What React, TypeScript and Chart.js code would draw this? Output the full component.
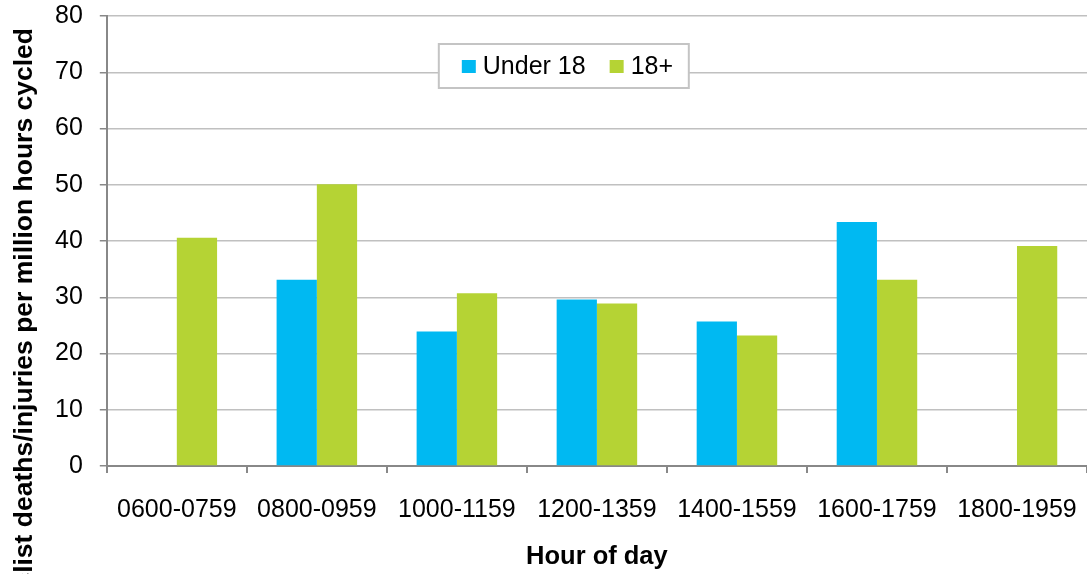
import React, { useEffect, useRef } from "react";
import { Chart, registerables } from "chart.js";

Chart.register(...registerables);

const categories = [
  "0600-0759",
  "0800-0959",
  "1000-1159",
  "1200-1359",
  "1400-1559",
  "1600-1759",
  "1800-1959",
];
const under18 = [null, 33.1, 23.9, 29.6, 25.7, 43.4, null];
const adults = [40.6, 50.1, 30.7, 28.9, 23.2, 33.1, 39.1];
const seriesLabels = ["Under 18", "18+"];
const seriesColors = ["#00B9F2", "#B5D334"];
const yTitle = "Cyclist deaths/injuries per million hours cycled";
const xTitle = "Hour of day";

const FONT = "'Liberation Sans', Arial, sans-serif";

const yTitlePlugin = {
  id: "yTitlePlugin",
  afterDraw(chart: any) {
    const ctx = chart.ctx;
    ctx.save();
    ctx.translate(25, 28);
    ctx.rotate(-Math.PI / 2);
    ctx.font = `bold 26.5px ${FONT}`;
    ctx.fillStyle = "#000";
    ctx.textAlign = "right";
    ctx.textBaseline = "middle";
    ctx.fillText(yTitle, 0, 0);
    ctx.restore();
  },
};

const legendPlugin = {
  id: "insideLegend",
  afterDatasetsDraw(chart: any) {
    const ctx = chart.ctx;
    const area = chart.chartArea;
    const left = area.left + 332;
    const top = area.top + 28;
    const w = 250;
    const h = 44;
    ctx.save();
    ctx.fillStyle = "#fff";
    ctx.fillRect(left, top, w, h);
    ctx.strokeStyle = "#c4c4c4";
    ctx.lineWidth = 2;
    ctx.strokeRect(left, top, w, h);
    ctx.font = `25px ${FONT}`;
    ctx.textBaseline = "middle";
    ctx.textAlign = "left";
    let x = left + 23;
    const cy = top + h / 2;
    chart.data.datasets.forEach((ds: any) => {
      ctx.fillStyle = ds.backgroundColor;
      ctx.fillRect(x, cy - 6, 14, 13);
      x += 21;
      ctx.fillStyle = "#000";
      ctx.fillText(ds.label, x, cy + 1);
      x += ctx.measureText(ds.label).width + 24;
    });
    ctx.restore();
  },
};

export default function App() {
  const ref = useRef<HTMLCanvasElement | null>(null);

  useEffect(() => {
    document.body.style.margin = "0";
    if (!ref.current) return;
    const chart = new Chart(ref.current, {
      type: "bar",
      data: {
        labels: categories,
        datasets: [
          {
            label: seriesLabels[0],
            data: under18,
            backgroundColor: seriesColors[0],
            barPercentage: 1,
            categoryPercentage: 0.575,
          },
          {
            label: seriesLabels[1],
            data: adults,
            backgroundColor: seriesColors[1],
            barPercentage: 1,
            categoryPercentage: 0.575,
          },
        ],
      },
      options: {
        animation: false,
        responsive: true,
        maintainAspectRatio: false,
        layout: { padding: { left: 38, top: 0, right: 0, bottom: 0 } },
        plugins: {
          legend: { display: false },
          tooltip: { enabled: false },
        },
        scales: {
          x: {
            afterFit: (scale: any) => {
              scale.paddingLeft = 0;
              scale.paddingRight = 0;
              scale.height = 108;
            },
            grid: {
              offset: true,
              drawOnChartArea: false,
              tickColor: "#888888",
              tickLength: 7,
              lineWidth: 2,
            },
            border: { color: "#888888", width: 2 },
            ticks: {
              color: "#000",
              font: { family: FONT, size: 25 },
              padding: 22,
              maxRotation: 0,
              autoSkip: false,
            },
            title: {
              display: true,
              text: xTitle,
              color: "#000",
              font: { family: FONT, size: 25.5, weight: "bold" },
              padding: { top: 0, bottom: 2 },
            },
          },
          y: {
            min: 0,
            max: 80,
            afterFit: (scale: any) => {
              scale.paddingTop = 16;
              scale.paddingBottom = 0;
            },
            ticks: {
              stepSize: 10,
              color: "#000",
              font: { family: FONT, size: 25 },
              padding: 17,
            },
            grid: {
              color: "#c0c0c0",
              lineWidth: 1.5,
              tickColor: "#888888",
              tickLength: 7,
            },
            border: { color: "#888888", width: 2 },
          },
        },
      },
      plugins: [legendPlugin, yTitlePlugin],
    });
    return () => chart.destroy();
  }, []);

  return (
    <div style={{ width: 1087, height: 574, position: "relative" }}>
      <canvas ref={ref} />
    </div>
  );
}
